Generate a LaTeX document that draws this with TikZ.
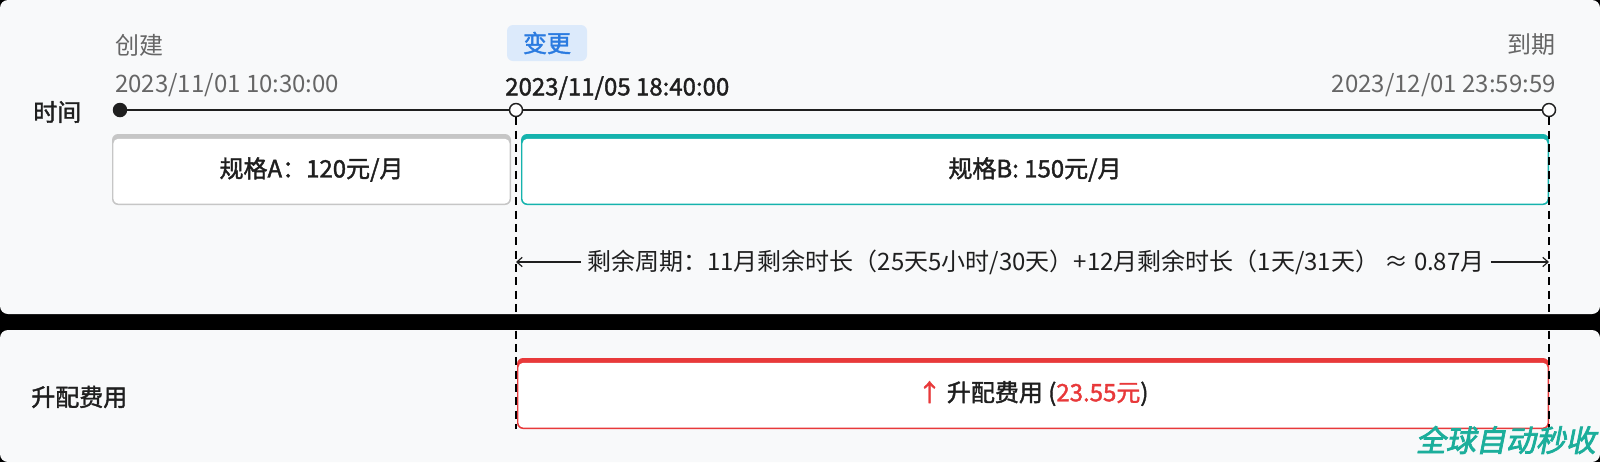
\documentclass[tikz,border=0pt]{standalone}
\usepackage{fontspec}
\setmainfont{Noto Sans CJK SC}
\newfontfamily\medfont[FakeBold=1.6]{Noto Sans CJK SC}
\newfontfamily\markfont[FakeBold=2.5,FakeSlant=0.2]{Noto Sans CJK SC}
\usetikzlibrary{positioning,arrows.meta}

\definecolor{panelbg}{HTML}{F8F9FA}
\definecolor{labelgray}{HTML}{666666}
\definecolor{inkdark}{HTML}{1F1F1F}
\definecolor{specgray}{HTML}{C6C6C6}
\definecolor{specteal}{HTML}{15B3AD}
\definecolor{upred}{HTML}{E8393A}
\definecolor{tagblue}{HTML}{2B7BE0}
\definecolor{tagbg}{HTML}{DCEAFB}
\definecolor{markteal}{HTML}{1BAE9B}

\tikzset{
  lbl/.style={inner sep=0pt,font=\fontsize{18pt}{20pt}\selectfont},
  graylbl/.style={lbl,text=labelgray},
  darklbl/.style={lbl,text=inkdark,font=\medfont\fontsize{18pt}{20pt}\selectfont},
  dot/.style={circle,draw=inkdark,line width=1.1pt,fill=white,minimum size=9.75pt,inner sep=0pt},
  cardbox/.style={rectangle,rounded corners=4.5pt,fill=#1,inner sep=0pt,minimum height=53.25pt,
    text=inkdark,font=\medfont\fontsize{18pt}{20pt}\selectfont,
    path picture={\fill[white,rounded corners=3.5pt]
      ([shift={(1.1pt,1.1pt)}]path picture bounding box.south west) rectangle
      ([shift={(-1.1pt,-3.6pt)}]path picture bounding box.north east);}},
  tag/.style={rectangle,rounded corners=4.5pt,fill=tagbg,text=tagblue,minimum width=60pt,
    minimum height=27pt,inner sep=0pt,font=\medfont\fontsize{18pt}{20pt}\selectfont},
  dashline/.style={black,line width=1.1pt,dash pattern=on 6pt off 4pt},
  cycarrow/.style={-{Straight Barb[length=4pt,width=7pt]},line width=0.9pt,inkdark}
}

\begin{document}
\begin{tikzpicture}[x=0.75pt,y=-0.75pt]
\useasboundingbox (0,0) rectangle (1600,462);
% panels
\fill[black] (0,0) rectangle (1600,462);
\fill[panelbg,rounded corners=6pt] (0,0) rectangle (1600,314);
\fill[panelbg,rounded corners=6pt] (0,330) rectangle (1600,462);

% time axis
\node[darklbl,anchor=west] (timelbl) at (33,112) {时间};
\node[dot,fill=inkdark] (created) at (120,110) {};
\node[dot] (changed) at (516,110) {};
\node[dot] (expire) at (1549,110) {};
\draw[line width=1.1pt,inkdark] (created) -- (changed) -- (expire);

\node[graylbl,anchor=west] (createtime) at (115,85.5) {2023/11/01 10:30:00};
\node[graylbl,anchor=west] (createlbl) at (115,45) {创建};
\node[graylbl,anchor=east] (expiretime) at (1556,85.5) {2023/12/01 23:59:59};
\node[graylbl,anchor=east] (expirelbl) at (1556,45) {到期};
\node[tag] (changetag) at (547,43) {变更};
\node[darklbl,anchor=west] (changetime) at (505,88) {2023/11/05 18:40:00};

% specs
\node[cardbox=specgray,minimum width=299.25pt] (specA) at (311.5,169.5) {规格A：120元/月};
\node[cardbox=specteal,minimum width=771pt] (specB) at (1035,169.5) {规格B: 150元/月};

% remaining period
\node[lbl,text=inkdark,inner sep=4.5pt,anchor=west] (remain) at (581,262)
  {剩余周期：11月剩余时长（25天5小时/30天）+12月剩余时长（1天/31天） ≈ 0.87月};
\draw[cycarrow] (remain.west) -- (remain.west -| changed);
\draw[cycarrow] (remain.east) -- (remain.east -| expire);

% upgrade fee
\node[darklbl,anchor=west] (feelbl) at (31,397) {升配费用};
\node[cardbox=upred,minimum width=774pt] (upfee) at (1033,393.5)
  {\textcolor{upred}{↑} 升配费用 (\textcolor{upred}{23.55元})};

\draw[dashline] (changed.south) -- (changed.south |- upfee.south);
\draw[dashline] (expire.south) -- (expire.south |- upfee.south);

\node[inner sep=0pt,anchor=east,text=markteal,font=\markfont\fontsize{22.5pt}{24pt}\selectfont] (mark) at (1596,440) {全球自动秒收};
\end{tikzpicture}
\end{document}
